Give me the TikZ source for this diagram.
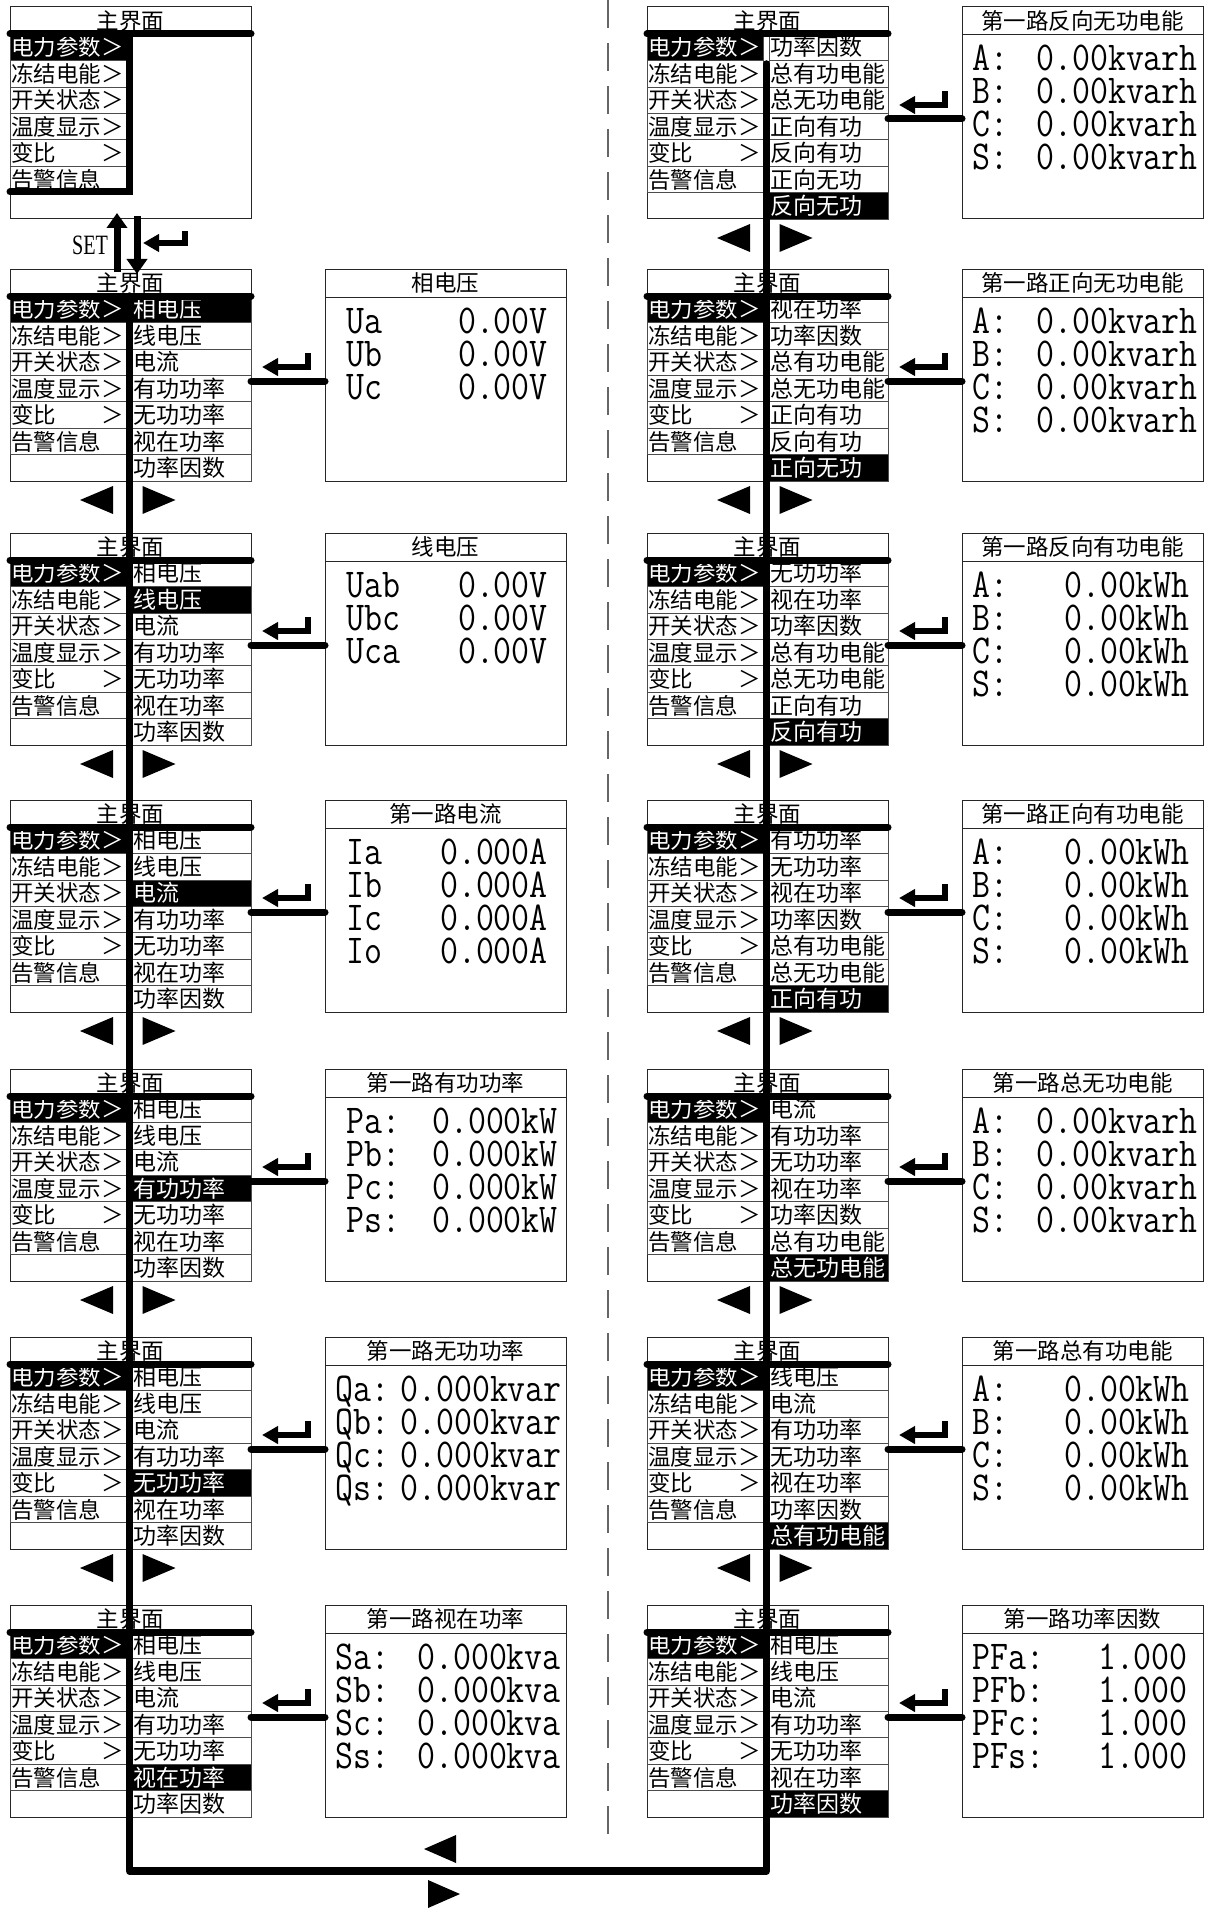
\documentclass[tikz,border=0pt]{standalone}
\usepackage{fontspec}
\setmainfont{Liberation Serif}
\newfontfamily\cjk{Noto Sans CJK SC}
\usetikzlibrary{positioning,arrows.meta,calc}

\newcommand{\lcdtext}[1]{\scalebox{0.85}[1]{#1}}

% menu screen, left column: #1 name, #2 x, #3 y
\newcommand{\menuleft}[3]{%
  \node[screen] (#1) at (#2,#3) {};
  \node[ttl] (#1-t) at (#2+120.5,#3+13.5) {主界面};
  \foreach \txt [count=\i] in {电力参数＞,冻结电能＞,开关状态＞,温度显示＞,变比　　＞,告警信息} {
    \ifnum\i=1 \def\cbg{black}\def\cfg{white}\else\def\cbg{white}\def\cfg{black}\fi
    \node[cellL,fill=\cbg,text=\cfg] (#1-l\i) at (#2,{#3+27+(\i-1)*26.43}) {\txt};
  }
  \coordinate (#1-j) at (#2+119.5,#3+27);
}
% menu screen, right column: #1 name, #2 x, #3 y, #4 items, #5 selected item
\newcommand{\menuright}[5]{%
  \foreach \txt [count=\i] in {#4} {
    \ifnum\i=#5 \def\cbg{black}\def\cfg{white}\else\def\cbg{white}\def\cfg{black}\fi
    \node[cellR,fill=\cbg,text=\cfg] (#1-r\i) at (#2+122,{#3+27+(\i-1)*26.43}) {\txt};
  }
  \draw[bar] (#2,#3+27) -- (#2+241,#3+27);
}
% readout screen: #1 name, #2 x, #3 y, #4 title, #5 rows, #6 label x, #7 value end x
\newcommand{\readout}[7]{%
  \node[screen] (#1) at (#2,#3) {};
  \node[ttl] (#1-t) at (#2+120.5,#3+14) {#4};
  \draw[sep] (#2,#3+28) -- (#2+241,#3+28);
  \foreach \lab/\val [count=\k] in {#5} {
    \node[lcd,anchor=base west] (#1-a\k) at (#2+#6,{#3+64+(\k-1)*33}) {\lcdtext{\lab}};
    \node[lcd,anchor=base east] (#1-v\k) at (#2+#7,{#3+64+(\k-1)*33}) {\lcdtext{\val}};
  }
}
% link from menu #1 to readout #2, enter key above it
\newcommand{\enterlink}[2]{%
  \draw[link] ([yshift=-112pt]#1.north east) -- ([yshift=-112pt]#2.north west);
  \draw[enter] ([xshift=57pt,yshift=-84pt]#1.north east) |- ([xshift=11pt,yshift=-98pt]#1.north east);
}
% prev/next keys round a trunk point
\newcommand{\navkeys}[1]{%
  \fill ($(#1)+(-49.5,0)$) -- ++(33,-14) -- ++(0,28) -- cycle;
  \fill ($(#1)+(46,0)$) -- ++(-33,-14) -- ++(0,28) -- cycle;
}

\begin{document}
\begin{tikzpicture}[
    x=1pt,y=-1pt,
    screen/.style={draw=black!85,line width=1pt,anchor=north west,minimum width=241pt,minimum height=212pt,inner sep=0pt,outer sep=0pt},
    cell/.style={draw=black!70,line width=0.7pt,anchor=north west,inner sep=0pt,inner xsep=1pt,minimum height=26.43pt,align=left,text height=20pt,text depth=2.5pt,outer sep=0pt},
    cellL/.style={cell,text width=114pt,font=\cjk\fontsize{22.5}{22.5}\selectfont},
    cellR/.style={cell,text width=117pt,font=\cjk\fontsize{23}{23}\selectfont},
    ttl/.style={inner sep=0pt,text height=20pt,text depth=2.5pt,font=\cjk\fontsize{22.5}{22.5}\selectfont},
    lcd/.style={inner sep=0pt,font=\ttfamily\fontsize{41}{41}\selectfont},
    sep/.style={draw=black!85,line width=1pt},
    bar/.style={line width=7pt,line cap=round},
    trunk/.style={line width=7.5pt,line cap=round,line join=round},
    link/.style={line width=7pt,line cap=round},
    enter/.style={line width=6pt,-{Triangle[length=16pt,width=17pt]}},
    setarr/.style={line width=7pt,-{Triangle[length=15pt,width=20pt]}},
    dashline/.style={draw=black!60,line width=1.5pt,dash pattern=on 28pt off 15pt},
    setlbl/.style={inner sep=0pt,font=\fontsize{28}{28}\selectfont},
]
\useasboundingbox (0,0) rectangle (1213,1910);

% divider
\draw[dashline] (608,0) -- (608,1838);

% left column
\menuleft{L0}{10}{7}
\draw[bar] (10,34) -- (251,34);
\draw[bar] (L0-j) -- ++(0,158) -- ++(-119.5,0);
\foreach \nm/\y/\s in {L1/269/1,L2/533/2,L3/800/3,L4/1069/4,L5/1337/5,L6/1605/6} {
  \menuleft{\nm}{10}{\y}
  \menuright{\nm}{10}{\y}{相电压,线电压,电流,有功功率,无功功率,视在功率,功率因数}{\s}
}
\readout{L1d}{325}{269}{相电压}{Ua/0.00V,Ub/0.00V,Uc/0.00V}{21}{223}
\readout{L2d}{325}{533}{线电压}{Uab/0.00V,Ubc/0.00V,Uca/0.00V}{21}{223}
\readout{L3d}{325}{800}{第一路电流}{Ia/0.000A,Ib/0.000A,Ic/0.000A,Io/0.000A}{21}{223}
\readout{L4d}{325}{1069}{第一路有功功率}{Pa:/0.000kW,Pb:/0.000kW,Pc:/0.000kW,Ps:/0.000kW}{21}{233}
\readout{L5d}{325}{1337}{第一路无功功率}{Qa:/0.000kvar,Qb:/0.000kvar,Qc:/0.000kvar,Qs:/0.000kvar}{10}{237}
\readout{L6d}{325}{1605}{第一路视在功率}{Sa:/0.000kva,Sb:/0.000kva,Sc:/0.000kva,Ss:/0.000kva}{10}{236}

% right column
\menuleft{R0}{647}{7}
\menuright{R0}{647}{7}{功率因数,总有功电能,总无功电能,正向有功,反向有功,正向无功,反向无功}{7}
\menuleft{R1}{647}{269}
\menuright{R1}{647}{269}{视在功率,功率因数,总有功电能,总无功电能,正向有功,反向有功,正向无功}{7}
\menuleft{R2}{647}{533}
\menuright{R2}{647}{533}{无功功率,视在功率,功率因数,总有功电能,总无功电能,正向有功,反向有功}{7}
\menuleft{R3}{647}{800}
\menuright{R3}{647}{800}{有功功率,无功功率,视在功率,功率因数,总有功电能,总无功电能,正向有功}{7}
\menuleft{R4}{647}{1069}
\menuright{R4}{647}{1069}{电流,有功功率,无功功率,视在功率,功率因数,总有功电能,总无功电能}{7}
\menuleft{R5}{647}{1337}
\menuright{R5}{647}{1337}{线电压,电流,有功功率,无功功率,视在功率,功率因数,总有功电能}{7}
\menuleft{R6}{647}{1605}
\menuright{R6}{647}{1605}{相电压,线电压,电流,有功功率,无功功率,视在功率,功率因数}{7}
\readout{R0d}{962}{7}{第一路反向无功电能}{A:/0.00kvarh,B:/0.00kvarh,C:/0.00kvarh,S:/0.00kvarh}{10}{236}
\readout{R1d}{962}{269}{第一路正向无功电能}{A:/0.00kvarh,B:/0.00kvarh,C:/0.00kvarh,S:/0.00kvarh}{10}{236}
\readout{R2d}{962}{533}{第一路反向有功电能}{A:/0.00kWh,B:/0.00kWh,C:/0.00kWh,S:/0.00kWh}{10}{228}
\readout{R3d}{962}{800}{第一路正向有功电能}{A:/0.00kWh,B:/0.00kWh,C:/0.00kWh,S:/0.00kWh}{10}{228}
\readout{R4d}{962}{1069}{第一路总无功电能}{A:/0.00kvarh,B:/0.00kvarh,C:/0.00kvarh,S:/0.00kvarh}{10}{236}
\readout{R5d}{962}{1337}{第一路总有功电能}{A:/0.00kWh,B:/0.00kWh,C:/0.00kWh,S:/0.00kWh}{10}{228}
\readout{R6d}{962}{1605}{第一路功率因数}{PFa:/1.000,PFb:/1.000,PFc:/1.000,PFs:/1.000}{10}{226}

% enter links
\foreach \r in {1,...,6} {\enterlink{L\r}{L\r d}}
\foreach \r in {0,...,6} {\enterlink{R\r}{R\r d}}

% SET / enter between the main menu and the first page
\node[setlbl] (set) at (90,245) {\scalebox{0.72}[1]{SET}};
\draw[setarr] ([xshift=107pt,yshift=-3pt]L1.north west) -- ([xshift=107pt,yshift=6pt]L0.south west);
\draw[setarr] ([xshift=127pt,yshift=3pt]L0.south west) -- ([xshift=127pt,yshift=-5pt]L1.north west);
\draw[enter] ([xshift=175pt,yshift=-12pt]L0.south west) |- ([xshift=133pt,yshift=-24pt]L0.south west);

% trunk loop
\coordinate (bl) at (129.5,1871);
\coordinate (br) at (766.5,1871);
\coordinate (R0-k) at ($(R0-j)+(0,30)$);
\draw[trunk] (L1-j) -- (bl) -- (br) -- (R0-k);

% prev / next keys
\foreach \a/\b in {L1/L2,L2/L3,L3/L4,L4/L5,L5/L6,R0/R1,R1/R2,R2/R3,R3/R4,R4/R5,R5/R6} {
  \coordinate (nav-\a) at ($(\a-j |- \a.south)+(0,19)$);
  \navkeys{nav-\a}
}
\fill (424,1849) -- ++(32,-14) -- ++(0,28) -- cycle;
\fill (460,1894) -- ++(-32,-14) -- ++(0,28) -- cycle;
\end{tikzpicture}
\end{document}
